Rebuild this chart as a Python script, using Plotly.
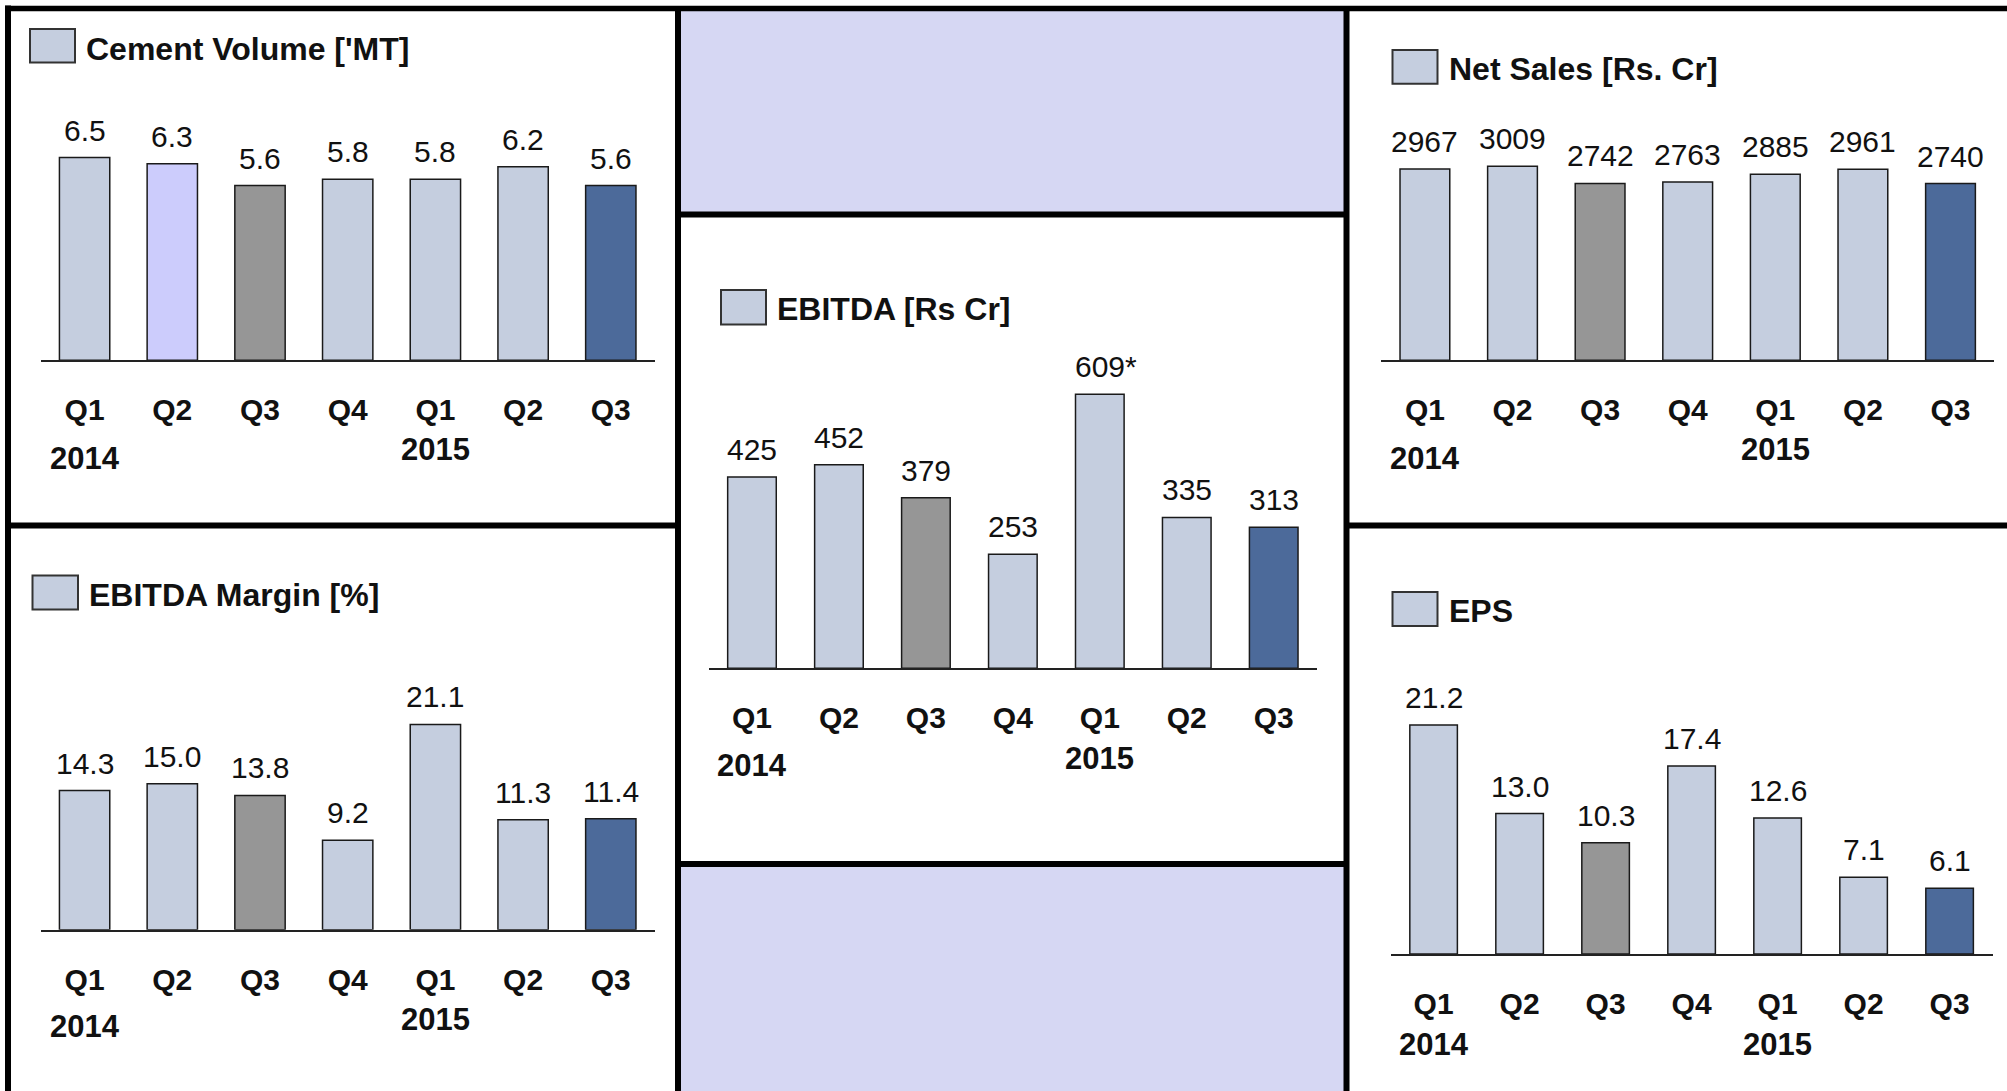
import plotly.graph_objects as go

W, H = 2007, 1091
FONT = "Liberation Sans, Arial, Helvetica, sans-serif"

# ---------------- data ----------------
quarters = ["Q1", "Q2", "Q3", "Q4", "Q1", "Q2", "Q3"]
years = ["2014", "2015"]
year_positions = [0, 4]

cement_volume = [6.5, 6.3, 5.6, 5.8, 5.8, 6.2, 5.6]
ebitda = [425, 452, 379, 253, 609, 335, 313]
net_sales = [2967, 3009, 2742, 2763, 2885, 2961, 2740]
ebitda_margin = [14.3, 15.0, 13.8, 9.2, 21.1, 11.3, 11.4]
eps = [21.2, 13.0, 10.3, 17.4, 12.6, 7.1, 6.1]

ebitda_note = ["", "", "", "", "*", "", ""]

titles = ["Cement Volume ['MT]", "EBITDA [Rs Cr]", "Net Sales [Rs. Cr]",
          "EBITDA Margin [%]", "EPS"]

# ---------------- styles ----------------
LIGHT = "#C5CEDF"
GRAY = "#969696"
DARK = "#4C6A9A"
LAV_BAR = "#CCCCFC"
LAV_BG = "#D6D7F3"
EDGE = "#1a1a1a"

std_colors = [LIGHT, LIGHT, GRAY, LIGHT, LIGHT, LIGHT, DARK]
cement_colors = [LIGHT, LAV_BAR, GRAY, LIGHT, LIGHT, LIGHT, DARK]

fmt1 = lambda v: f"{v:.1f}"
fmt0 = lambda v: f"{v:.0f}"
no_notes = [""] * 7

# panel geometry in pixels
panels = [
    dict(values=cement_volume, labels=[fmt1(v) for v in cement_volume], notes=no_notes,
         colors=cement_colors,
         x0=40.75, x1=654.65, base=360.3, top=90, k=31.2, width=0.574,
         swatch=(30, 29, 75, 62.5), title_xy=(84, 49), year_off=(97.7, 89.2)),
    dict(values=ebitda, labels=[fmt0(v) for v in ebitda], notes=ebitda_note,
         colors=std_colors,
         x0=708.5, x1=1317.2, base=668.2, top=340, k=0.450, width=0.559,
         swatch=(721, 290, 766, 324.5), title_xy=(774.6, 309), year_off=(97.6, 90.3)),
    dict(values=net_sales, labels=[fmt0(v) for v in net_sales], notes=no_notes,
         colors=std_colors,
         x0=1381.1, x1=1994.3, base=360.3, top=100, k=0.0645, width=0.568,
         swatch=(1392.5, 50, 1437.5, 83.8), title_xy=(1446.8, 69.3), year_off=(97.7, 89.2)),
    dict(values=ebitda_margin, labels=[fmt1(v) for v in ebitda_margin], notes=no_notes,
         colors=std_colors,
         x0=40.75, x1=654.65, base=929.7, top=640, k=9.73, width=0.574,
         swatch=(32.5, 575.5, 78, 609.5), title_xy=(86.8, 594.7), year_off=(96.5, 89.3)),
    dict(values=eps, labels=[fmt1(v) for v in eps], notes=no_notes,
         colors=std_colors,
         x0=1390.6, x1=1992.6, base=954.1, top=660, k=10.81, width=0.553,
         swatch=(1392.5, 592, 1437.5, 626), title_xy=(1446.8, 611), year_off=(90.4, 90.4)),
]

px = lambda x: x / W
py = lambda y: 1 - y / H

fig = go.Figure()
layout = dict(width=W, height=H, margin=dict(l=0, r=0, t=0, b=0),
              paper_bgcolor="white", plot_bgcolor="rgba(0,0,0,0)",
              showlegend=False, font=dict(family=FONT, color="#111"))
annotations = []
shapes = []

for i, p in enumerate(panels, start=1):
    xa = "x" if i == 1 else f"x{i}"
    ya = "y" if i == 1 else f"y{i}"
    xs = list(range(len(p["values"])))
    fig.add_trace(go.Bar(
        x=xs, y=p["values"], xaxis=xa, yaxis=ya,
        width=p["width"],
        marker=dict(color=p["colors"], line=dict(color=EDGE, width=1.5)),
        cliponaxis=False, hoverinfo="skip",
    ))
    # value labels
    for xv, v, lab, note in zip(xs, p["values"], p["labels"], p["notes"]):
        annotations.append(dict(
            x=xv, xref=xa, y=v, yref=ya, text=lab + note, showarrow=False,
            xanchor="center", yanchor="bottom", yshift=9, xshift=6 if note else 0,
            font=dict(family=FONT, size=30, color="#111")))
    layout["xaxis" if i == 1 else f"xaxis{i}"] = dict(
        domain=[px(p["x0"]), px(p["x1"])], range=[-0.5, 6.5], anchor=ya,
        tickvals=xs, ticktext=quarters,
        tickfont=dict(family=FONT, size=30, weight="bold", color="#111"),
        ticks="", ticklabelstandoff=22,
        showline=True, linecolor="#222", linewidth=2,
        showgrid=False, zeroline=False, fixedrange=True)
    layout["yaxis" if i == 1 else f"yaxis{i}"] = dict(
        domain=[py(p["base"]), py(p["top"])],
        range=[0, (p["base"] - p["top"]) / p["k"]], anchor=xa,
        visible=False, fixedrange=True)
    # years
    for yr, pos, off in zip(years, year_positions, p["year_off"]):
        annotations.append(dict(
            x=pos, xref=xa, y=py(p["base"] + off), yref="paper",
            text=f"<b>{yr}</b>", showarrow=False, xanchor="center", yanchor="middle",
            font=dict(family=FONT, size=31, color="#111")))
    # swatch + title
    sx0, sy0, sx1, sy1 = p["swatch"]
    shapes.append(dict(type="rect", xref="paper", yref="paper",
                       x0=px(sx0), x1=px(sx1), y0=py(sy1), y1=py(sy0),
                       fillcolor=LIGHT, line=dict(color="#333", width=2)))
    tx, ty = p["title_xy"]
    annotations.append(dict(
        x=px(tx), y=py(ty), xref="paper", yref="paper", text=f"<b>{titles[i-1]}</b>",
        showarrow=False, xanchor="left", yanchor="middle",
        font=dict(family=FONT, size=32, color="#111")))

# frame / layout panels
LW = 5.5
XL, XM1, XM2, XR = 8, 678, 1346.5, W + 5
YT, YB = 8.5, H + 5
# lavender boxes in middle column
shapes.append(dict(type="rect", xref="paper", yref="paper", layer="below",
                   x0=px(XM1), x1=px(XM2), y0=py(214.6), y1=py(YT),
                   fillcolor=LAV_BG, line=dict(width=0)))
shapes.append(dict(type="rect", xref="paper", yref="paper", layer="below",
                   x0=px(XM1), x1=px(XM2), y0=py(YB), y1=py(864),
                   fillcolor=LAV_BG, line=dict(width=0)))


def hline(y, xa, xb, w=LW):
    shapes.append(dict(type="line", xref="paper", yref="paper",
                       x0=px(xa), x1=px(xb), y0=py(y), y1=py(y),
                       line=dict(color="black", width=w)))


def vline(x, ya, yb, w=LW):
    shapes.append(dict(type="line", xref="paper", yref="paper",
                       x0=px(x), x1=px(x), y0=py(ya), y1=py(yb),
                       line=dict(color="black", width=w)))


hline(YT, XL - 3, XR)
vline(XL, YT - 3, YB, 6)
vline(XM1, YT, YB, 6)
vline(XM2, YT, YB, 6)
hline(525.5, XL, XM1, 6)
hline(525.5, XM2, XR, 6)
hline(214.6, XM1, XM2, 6)
hline(864, XM1, XM2, 6)

layout["annotations"] = annotations
layout["shapes"] = shapes
fig.update_layout(**layout)

fig.write_html("out.html")
